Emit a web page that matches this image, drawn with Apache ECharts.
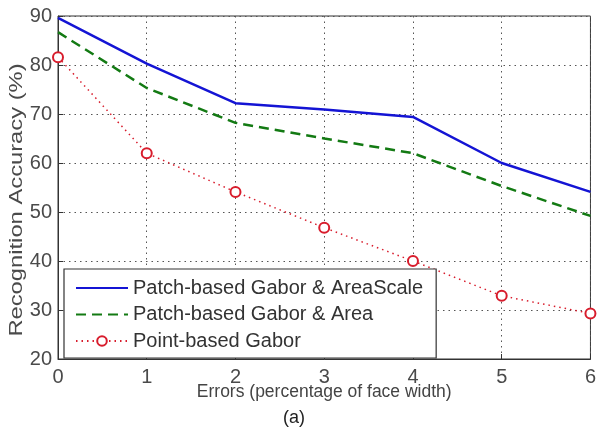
<!DOCTYPE html>
<html>
<head>
<meta charset="utf-8">
<script src="https://cdn.jsdelivr.net/npm/echarts@6/dist/echarts.min.js"></script>
<style>html,body{margin:0;padding:0;background:#fff}#c{width:599px;height:432px}</style>
</head>
<body>
<div id="c"></div>
<script>
const xValues = [0, 1, 2, 3, 4, 5, 6];
const areaScale = [89.6, 80.3, 72.2, 70.9, 69.4, 60.0, 54.1];
const area = [86.7, 75.3, 68.2, 65.0, 62.0, 55.3, 49.2];
const pointGabor = [81.6, 62.0, 54.1, 46.8, 40.0, 32.9, 29.3];
const seriesNames = ['Patch-based Gabor & AreaScale', 'Patch-based Gabor & Area', 'Point-based Gabor'];
const xTitle = 'Errors (percentage of face width)';
const yTitle = 'Recognition Accuracy (%)';
const caption = '(a)';

const font = 'Liberation Sans, Arial, sans-serif';
const chart = echarts.init(document.getElementById('c'), null, {renderer: 'canvas'});
const pair = arr => xValues.map((x, i) => [x, arr[i]]);
chart.setOption({
  animation: false,
  backgroundColor: '#fff',
  grid: {left: 58, right: 5, top: 16, bottom: 73, show: true, borderColor: '#333', borderWidth: 1, backgroundColor: 'transparent'},
  xAxis: {
    type: 'value', min: 0, max: 6, interval: 1,
    name: xTitle, nameLocation: 'middle', nameGap: 24, nameMoveOverlap: false,
    nameTextStyle: {fontFamily: font, fontSize: 17.5, color: '#444'},
    axisLine: {show: true, lineStyle: {color: '#333', width: 1}},
    axisTick: {show: true, inside: true, length: 5, lineStyle: {color: '#333'}},
    axisLabel: {fontFamily: font, fontSize: 20, color: '#4a4a4a', margin: 8},
    splitLine: {show: true, lineStyle: {type: [1.5, 4], color: '#555', width: 1}}
  },
  yAxis: {
    type: 'value', min: 20, max: 90, interval: 10,
    axisLine: {show: true, lineStyle: {color: '#333', width: 1}},
    axisTick: {show: true, inside: true, length: 5, lineStyle: {color: '#333'}},
    axisLabel: {fontFamily: font, fontSize: 20, color: '#4a4a4a', margin: 6},
    splitLine: {show: true, lineStyle: {type: [1.5, 4], color: '#555', width: 1}}
  },
  legend: {
    orient: 'vertical', left: 64, top: 269,
    backgroundColor: '#fff', borderColor: '#333', borderWidth: 1.2,
    padding: [9, 13, 7, 11], itemGap: 6.5, itemWidth: 52, itemHeight: 12,
    textStyle: {fontFamily: font, fontSize: 20, color: '#333'},
    data: [
      {name: seriesNames[0], itemStyle: {opacity: 0}},
      {name: seriesNames[1], itemStyle: {opacity: 0}},
      {name: seriesNames[2]}
    ]
  },
  series: [
    {name: seriesNames[0], type: 'line', data: pair(areaScale), symbol: 'none',
     lineStyle: {color: '#1414d4', width: 2.5}, itemStyle: {color: '#1414d4'}},
    {name: seriesNames[1], type: 'line', data: pair(area), symbol: 'none',
     lineStyle: {color: '#137a13', width: 2.5, type: [10, 6]}, itemStyle: {color: '#137a13'}},
    {name: seriesNames[2], type: 'line', data: pair(pointGabor), symbol: 'emptyCircle', symbolSize: 10,
     lineStyle: {color: '#d81c2c', width: 1.5, type: [1.5, 4]},
     itemStyle: {color: '#d81c2c', borderColor: '#d81c2c', borderWidth: 2}}
  ],
  graphic: [
    {type: 'text', x: 17, y: 200, rotation: Math.PI / 2, scaleX: 1.25,
     style: {text: yTitle, font: '19px ' + font, fill: '#4a4a4a', align: 'center', verticalAlign: 'middle'}},
    {type: 'text', left: 283, top: 409, style: {text: caption, font: '18px ' + font, fill: '#222'}}
  ]
});
</script>
</body>
</html>
